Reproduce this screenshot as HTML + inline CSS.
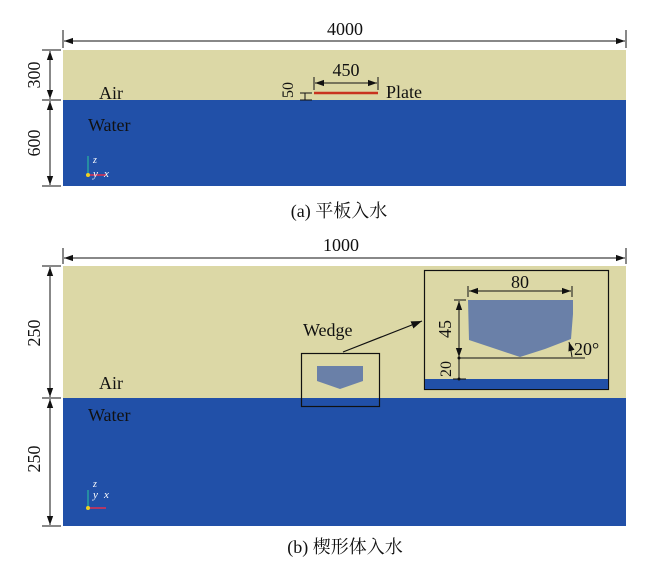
<!DOCTYPE html>
<html><head><meta charset="utf-8"><style>
html,body{margin:0;padding:0;background:#fff;}
svg{display:block;}
text{font-family:"Liberation Serif","Noto Serif CJK SC",serif;fill:#111;}
</style></head><body>
<svg width="651" height="568" viewBox="0 0 651 568" xmlns="http://www.w3.org/2000/svg">
<defs>
<marker id="a" viewBox="0 0 10 10" refX="10" refY="5" markerWidth="9" markerHeight="9" orient="auto-start-reverse"><path d="M0,1.5 L10,5 L0,8.5 z" fill="#111"/></marker>
</defs>
<!-- Panel a -->
<rect x="63" y="50" width="563" height="50" fill="#dcd8a6"/>
<rect x="63" y="100" width="563" height="86" fill="#2150a8"/>
<line x1="63" y1="30" x2="63" y2="48" stroke="#111"/>
<line x1="626" y1="30" x2="626" y2="48" stroke="#111"/>
<line x1="64" y1="41" x2="625" y2="41" stroke="#111" marker-start="url(#a)" marker-end="url(#a)"/>
<text x="345" y="35" font-size="18" text-anchor="middle">4000</text>
<line x1="42" y1="50" x2="61" y2="50" stroke="#111"/>
<line x1="42" y1="100" x2="61" y2="100" stroke="#111"/>
<line x1="42" y1="186" x2="61" y2="186" stroke="#111"/>
<line x1="50" y1="51" x2="50" y2="99" stroke="#111" marker-start="url(#a)" marker-end="url(#a)"/>
<line x1="50" y1="101" x2="50" y2="185" stroke="#111" marker-start="url(#a)" marker-end="url(#a)"/>
<text transform="translate(40,75) rotate(-90)" font-size="18" text-anchor="middle">300</text>
<text transform="translate(40,143) rotate(-90)" font-size="18" text-anchor="middle">600</text>
<text x="99" y="99" font-size="18">Air</text>
<text x="88" y="131" font-size="18">Water</text>
<line x1="314" y1="93" x2="378" y2="93" stroke="#c8321e" stroke-width="2.5"/>
<line x1="314" y1="77" x2="314" y2="90" stroke="#111"/>
<line x1="378" y1="77" x2="378" y2="90" stroke="#111"/>
<line x1="315" y1="83" x2="377" y2="83" stroke="#111" marker-start="url(#a)" marker-end="url(#a)"/>
<text x="346" y="76" font-size="18" text-anchor="middle">450</text>
<line x1="300" y1="93" x2="312" y2="93" stroke="#111"/>
<line x1="300" y1="100" x2="312" y2="100" stroke="#111"/>
<line x1="305" y1="93" x2="305" y2="100" stroke="#111"/>
<text transform="translate(293,90) rotate(-90)" font-size="16" text-anchor="middle">50</text>
<text x="386" y="98" font-size="18">Plate</text>
<line x1="88" y1="173" x2="88" y2="156" stroke="#29a0a0" stroke-width="1.5"/>
<line x1="88" y1="175" x2="106" y2="175" stroke="#e03050" stroke-width="1.5"/>
<circle cx="88" cy="175" r="2" fill="#f0d020"/>
<text x="93" y="163" font-size="10" style="fill:#fff;font-style:italic">z</text>
<text x="93" y="177" font-size="11" style="fill:#fff;font-style:italic">y</text>
<text x="104" y="177" font-size="11" style="fill:#fff;font-style:italic">x</text>
<text x="339" y="217" font-size="18" text-anchor="middle">(a)  平板入水</text>

<!-- Panel b -->
<rect x="63" y="266" width="563" height="132" fill="#dcd8a6"/>
<rect x="63" y="398" width="563" height="128" fill="#2150a8"/>
<line x1="63" y1="248" x2="63" y2="264" stroke="#111"/>
<line x1="626" y1="248" x2="626" y2="264" stroke="#111"/>
<line x1="64" y1="258" x2="625" y2="258" stroke="#111" marker-start="url(#a)" marker-end="url(#a)"/>
<text x="341" y="251" font-size="18" text-anchor="middle">1000</text>
<line x1="42" y1="266" x2="61" y2="266" stroke="#111"/>
<line x1="42" y1="398" x2="61" y2="398" stroke="#111"/>
<line x1="42" y1="526" x2="61" y2="526" stroke="#111"/>
<line x1="50" y1="267" x2="50" y2="397" stroke="#111" marker-start="url(#a)" marker-end="url(#a)"/>
<line x1="50" y1="399" x2="50" y2="525" stroke="#111" marker-start="url(#a)" marker-end="url(#a)"/>
<text transform="translate(40,333) rotate(-90)" font-size="18" text-anchor="middle">250</text>
<text transform="translate(40,459) rotate(-90)" font-size="18" text-anchor="middle">250</text>
<text x="99" y="389" font-size="18">Air</text>
<text x="88" y="421" font-size="18">Water</text>
<line x1="88" y1="508" x2="88" y2="490" stroke="#29a0a0" stroke-width="1.5"/>
<line x1="88" y1="508" x2="106" y2="508" stroke="#e03050" stroke-width="1.5"/>
<circle cx="88" cy="508" r="2" fill="#f0d020"/>
<text x="93" y="487" font-size="10" style="fill:#fff;font-style:italic">z</text>
<text x="93" y="498" font-size="11" style="fill:#fff;font-style:italic">y</text>
<text x="104" y="498" font-size="11" style="fill:#fff;font-style:italic">x</text>
<path d="M317,366 L363,366 L363,381 L340,389 L317,381 z" fill="#6a80a8"/>
<rect x="301.5" y="353.5" width="78" height="53" fill="none" stroke="#111" stroke-width="1.2"/>
<text x="303" y="336" font-size="18">Wedge</text>
<line x1="343" y1="352" x2="422" y2="321" stroke="#111" stroke-width="1.2" marker-end="url(#a)"/>
<rect x="424.5" y="270.5" width="184" height="119" fill="#dcd8a6" stroke="#111" stroke-width="1.2"/>
<rect x="425" y="379" width="183" height="10" fill="#2150a8"/>
<path d="M468,300 L573,300 L573,314 L571,339 L545,349 L520,357 L496,349 L469,340 z" fill="#6a80a8"/>
<line x1="458" y1="358" x2="585" y2="358" stroke="#111"/>
<line x1="453" y1="379" x2="466" y2="379" stroke="#111"/>
<line x1="468" y1="286" x2="468" y2="297" stroke="#111"/>
<line x1="572" y1="286" x2="572" y2="297" stroke="#111"/>
<line x1="469" y1="291" x2="571" y2="291" stroke="#111" marker-start="url(#a)" marker-end="url(#a)"/>
<text x="520" y="288" font-size="18" text-anchor="middle">80</text>
<line x1="454" y1="300" x2="466" y2="300" stroke="#111"/>
<line x1="459" y1="301" x2="459" y2="357" stroke="#111" marker-start="url(#a)" marker-end="url(#a)"/>
<line x1="459" y1="358" x2="459" y2="379" stroke="#111"/>
<circle cx="459" cy="358" r="1.5" fill="#111"/><circle cx="459" cy="379" r="1.5" fill="#111"/>
<text transform="translate(451,329) rotate(-90)" font-size="18" text-anchor="middle">45</text>
<text transform="translate(451,369) rotate(-90)" font-size="16" text-anchor="middle">20</text>
<path d="M572,357 Q571,349 569,342" fill="none" stroke="#111" marker-end="url(#a)"/>
<text x="574" y="355" font-size="18">20°</text>
<text x="345" y="553" font-size="18" text-anchor="middle">(b)  楔形体入水</text>
</svg>
</body></html>
